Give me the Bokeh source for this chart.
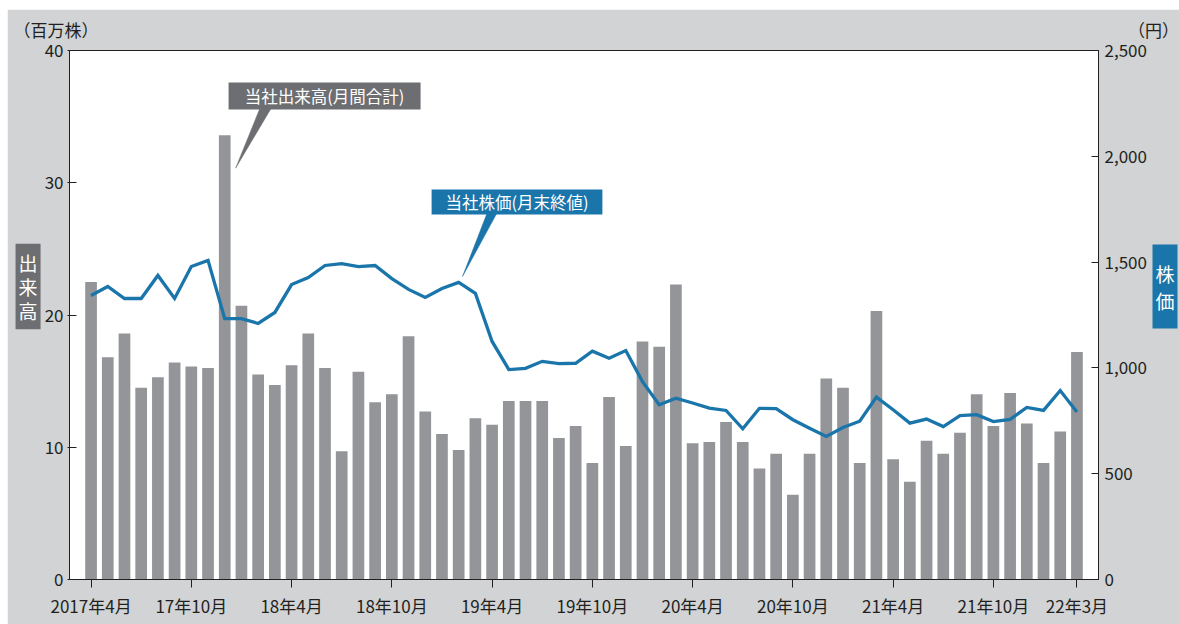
from bokeh.plotting import figure
from bokeh.models import (ColumnDataSource, Range1d, LinearAxis, FixedTicker,
                          NumeralTickFormatter, Label, BoxAnnotation)
from bokeh.embed import file_html
from bokeh.resources import INLINE

# ---------------- data ----------------
months = [f"{y}-{m:02d}" for y in range(2017, 2023) for m in range(1, 13)
          if (y, m) >= (2017, 4) and (y, m) <= (2022, 3)]

# monthly trading volume (million shares)
volume = [22.5, 16.8, 18.6, 14.5, 15.3, 16.4, 16.1, 16.0, 33.6, 20.7,
          15.5, 14.7, 16.2, 18.6, 16.0, 9.7, 15.7, 13.4, 14.0, 18.4,
          12.7, 11.0, 9.8, 12.2, 11.7, 13.5, 13.5, 13.5, 10.7, 11.6,
          8.8, 13.8, 10.1, 18.0, 17.6, 22.3, 10.3, 10.4, 11.9, 10.4,
          8.4, 9.5, 6.4, 9.5, 15.2, 14.5, 8.8, 20.3, 9.1, 7.4,
          10.5, 9.5, 11.1, 14.0, 11.6, 14.1, 11.8, 8.8, 11.2, 17.2]

# month-end closing price (yen)
price = [1342, 1385, 1328, 1328, 1437, 1328, 1479, 1508, 1233, 1233,
         1210, 1262, 1394, 1427, 1484, 1493, 1479, 1484, 1422, 1371,
         1333, 1375, 1404, 1352, 1125, 992, 998, 1031, 1020, 1022,
         1079, 1046, 1082, 935, 826, 857, 834, 810, 799, 712,
         809, 808, 755, 715, 676, 718, 748, 862, 802, 739,
         758, 723, 775, 779, 746, 757, 813, 799, 893, 792]

tick_months = ["2017-04", "2017-10", "2018-04", "2018-10", "2019-04", "2019-10",
               "2020-04", "2020-10", "2021-04", "2021-10", "2022-03"]
tick_labels = ["2017年4月", "17年10月", "18年4月", "18年10月", "19年4月", "19年10月",
               "20年4月", "20年10月", "21年4月", "21年10月", "22年3月"]
vol_ticks = [0, 10, 20, 30, 40]
price_ticks = [0, 500, 1000, 1500, 2000, 2500]

# ---------------- style ----------------
FONT = "Noto Sans CJK JP"
UNIT_FONT = "'Liberation Sans', 'Noto Sans CJK JP'"
BG = "#d1d3d4"
BAR = "#939598"
BLUE = "#1a75ab"
DARK = "#6d6e71"
INK = "#231f20"

idx = list(range(len(months)))
tick_pos = [months.index(m) for m in tick_months]

p = figure(width=1172, height=615,
           x_range=Range1d(-1.29, len(months) - 1 + 1.29),
           y_range=Range1d(0, 40),
           output_backend="svg", toolbar_location=None,
           min_border_left=62, min_border_right=81,
           min_border_top=41, min_border_bottom=45,
           background_fill_color="white", border_fill_color=BG)
p.margin = (9, 0, 0, 7)
p.extra_y_ranges = {"price": Range1d(0, 2500)}
p.xgrid.visible = False
p.ygrid.visible = False
p.outline_line_color = INK
p.outline_line_width = 1

src = ColumnDataSource(dict(x=idx, vol=volume, price=price))
p.vbar(x="x", top="vol", width=0.7, source=src, fill_color=BAR, line_color=None)
p.line(x="x", y="price", source=src, y_range_name="price",
       line_color=BLUE, line_width=3.3, line_join="miter")

# x axis
xa = p.xaxis[0]
xa.ticker = FixedTicker(ticks=tick_pos)
xa.major_label_overrides = {t: l for t, l in zip(tick_pos, tick_labels)}
xa.major_tick_in = 0
xa.major_tick_out = 8
xa.minor_tick_line_color = None
xa.major_label_standoff = 5
xa.axis_line_color = INK
xa.major_tick_line_color = INK
xa.major_label_text_font = FONT
xa.major_label_text_font_size = "17px"
xa.major_label_text_color = INK

# left axis
ya = p.yaxis[0]
ya.ticker = FixedTicker(ticks=vol_ticks)
ya.major_tick_in = 7
ya.major_tick_out = 2
ya.minor_tick_line_color = None
ya.major_label_standoff = 4
ya.axis_line_color = INK
ya.major_tick_line_color = INK
ya.major_label_text_font = FONT
ya.major_label_text_font_size = "17px"
ya.major_label_text_color = INK

# right axis
ra = LinearAxis(y_range_name="price", ticker=FixedTicker(ticks=price_ticks),
                formatter=NumeralTickFormatter(format="0,0"))
ra.major_tick_in = 7
ra.major_tick_out = 0
ra.minor_tick_line_color = None
ra.major_label_standoff = 6
ra.axis_line_color = INK
ra.major_tick_line_color = INK
ra.major_label_text_font = FONT
ra.major_label_text_font_size = "17px"
ra.major_label_text_color = INK
p.add_layout(ra, "right")

# labels outside the frame: put them in side panels so they are not clipped
# (their position still comes from the data scales)
p.add_layout(Label(x=-4.64, y=41.44, text="（百万株）", text_align="left",
                   text_baseline="middle", text_font=UNIT_FONT, text_font_size="17px",
                   text_color=INK), "above")
p.add_layout(Label(x=62.05, y=41.44, text="（円）", text_align="left",
                   text_baseline="middle", text_font=UNIT_FONT, text_font_size="17px",
                   text_color=INK), "above")
p.add_layout(Label(x=-3.77, y=22.15, text="出\n来\n高", text_align="center",
                   text_baseline="middle", text_font=FONT, text_font_size="19px",
                   text_color="white", text_line_height=0.9,
                   background_fill_color=DARK,
                   padding=dict(left=3, right=3, top=5, bottom=5)), "left")
p.add_layout(Label(x=64.27, y=22.15, text="株\n価", text_align="center",
                   text_baseline="middle", text_font=FONT, text_font_size="19px",
                   text_color="white", text_line_height=1.0,
                   background_fill_color=BLUE,
                   padding=dict(left=3, right=3, top=15, bottom=15)), "right")

# callout: volume
pk = volume.index(max(volume))
p.patch(x=[pk + 2.16, pk + 2.86, pk + 0.65], y=[35.8, 35.8, volume[pk] - 2.5],
        fill_color=DARK, line_color=DARK, line_width=0.5)
p.add_layout(BoxAnnotation(left=8.23, right=19.72, bottom=35.54, top=37.58,
                           fill_color=DARK, fill_alpha=1, line_color=None))
p.add_layout(Label(x=13.97, y=36.56, text="当社出来高(月間合計)", text_align="center",
                   text_baseline="middle", text_font=FONT, text_font_size="16.5px",
                   text_color="white"))

# callout: price
ci = 22
p.patch(x=[ci + 1.73, ci + 2.33, ci + 0.23],
        y=[27.8, 27.8, price[ci] * 40 / 2500 + 0.45],
        fill_color=BLUE, line_color=BLUE, line_width=0.5)
p.add_layout(BoxAnnotation(left=20.38, right=30.6, bottom=27.6, top=29.49,
                           fill_color=BLUE, fill_alpha=1, line_color=None))
p.add_layout(Label(x=25.49, y=28.54, text="当社株価(月末終値)", text_align="center",
                   text_baseline="middle", text_font=FONT, text_font_size="16.5px",
                   text_color="white"))

open("out.html", "w").write(file_html(p, INLINE))
